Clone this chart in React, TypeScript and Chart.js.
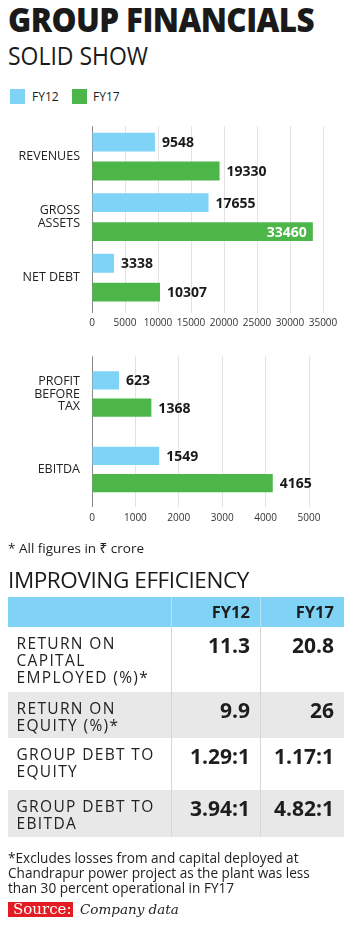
import React, { useEffect, useRef } from "react";
import { Chart, registerables } from "chart.js";

Chart.register(...registerables);

// ---------- data ----------
const SERIES = ["FY12", "FY17"];

const TOP_CATEGORIES = [["REVENUES"], ["GROSS", "ASSETS"], ["NET DEBT"]];
const TOP_FY12 = [9548, 17655, 3338];
const TOP_FY17 = [19330, 33460, 10307];
const TOP_MAX = 35000;
const TOP_STEP = 5000;

const BOTTOM_CATEGORIES = [["PROFIT", "BEFORE", "TAX"], ["EBITDA"]];
const BOTTOM_FY12 = [623, 1549];
const BOTTOM_FY17 = [1368, 4165];
const BOTTOM_MAX = 5000;
const BOTTOM_STEP = 1000;

const TABLE_HEAD = ["FY12", "FY17"];
const TABLE_LABELS = [
  ["RETURN ON", "CAPITAL", "EMPLOYED (%)*"],
  ["RETURN ON", "EQUITY (%)*"],
  ["GROUP DEBT TO", "EQUITY"],
  ["GROUP DEBT TO", "EBITDA"],
];
const TABLE_FY12 = ["11.3", "9.9", "1.29:1", "3.94:1"];
const TABLE_FY17 = ["20.8", "26", "1.17:1", "4.82:1"];

const TITLE = "GROUP FINANCIALS";
const SUBTITLE = "SOLID SHOW";
const UNIT_NOTE = "* All figures in ₹ crore";
const TABLE_TITLE = "IMPROVING EFFICIENCY";
const FOOTNOTE = [
  "*Excludes losses from and capital deployed at",
  "Chandrapur power project as the plant was less",
  "than 30 percent operational in FY17",
];
const SOURCE_LABEL = "Source:";
const SOURCE_TEXT = "Company data";

// ---------- styles ----------
const BLUE = "#7fd3f6";
const GREEN = "#4cb748";
const SANS = "'Open Sans', 'Noto Sans', 'DejaVu Sans', sans-serif";
const SERIF = "'DejaVu Serif', 'Liberation Serif', serif";

const valueLabels = {
  id: "valueLabels",
  afterDatasetsDraw(chart: any) {
    const ctx = chart.ctx;
    ctx.save();
    ctx.font = "700 14px 'Open Sans'";
    ctx.textBaseline = "middle";
    chart.data.datasets.forEach((ds: any, di: number) => {
      const meta = chart.getDatasetMeta(di);
      meta.data.forEach((bar: any, i: number) => {
        const text = String(ds.data[i]);
        const w = ctx.measureText(text).width;
        const x = bar.x;
        const y = bar.y + 1;
        if (x + 7 + w > chart.width - 4) {
          ctx.fillStyle = "#ffffff";
          ctx.textAlign = "right";
          ctx.fillText(text, x - 6, y);
        } else {
          ctx.fillStyle = "#1a1a1a";
          ctx.textAlign = "left";
          ctx.fillText(text, x + 7, y);
        }
      });
    });
    ctx.restore();
  },
};

function makeConfig(
  labels: any[],
  a: number[],
  b: number[],
  max: number,
  step: number,
  o: { padTop: number; padRight: number; axisW: number; axisH: number; tickLen: number; tickPad: number; catPct: number; barPct: number }
): any {
  return {
    type: "bar",
    data: {
      labels,
      datasets: [
        { label: SERIES[0], data: a, backgroundColor: BLUE, borderWidth: 0, categoryPercentage: o.catPct, barPercentage: o.barPct },
        { label: SERIES[1], data: b, backgroundColor: GREEN, borderWidth: 0, categoryPercentage: o.catPct, barPercentage: o.barPct },
      ],
    },
    options: {
      indexAxis: "y",
      responsive: false,
      animation: false,
      devicePixelRatio: 1,
      layout: { padding: { top: o.padTop, right: o.padRight, left: 0, bottom: 0 } },
      plugins: { legend: { display: false }, tooltip: { enabled: false } },
      scales: {
        x: {
          min: 0,
          max,
          ticks: {
            stepSize: step,
            color: "#333",
            font: { family: "'Open Sans'", size: 10 },
            padding: o.tickPad,
            maxRotation: 0,
            autoSkip: false,
            callback: (v: any) => String(v),
          },
          grid: {
            color: (c: any) => (c.index === 0 ? "#8a8a8a" : "#e2e2e2"),
            lineWidth: 1,
            drawTicks: o.tickLen > 0,
            tickLength: o.tickLen,
          },
          border: { display: false },
          afterFit: (s: any) => {
            s.height = o.axisH;
          },
        },
        y: {
          ticks: {
            color: "#222",
            font: { family: "'Open Sans'", size: 12.5, lineHeight: 1.0 },
            padding: 12,
          },
          grid: { display: false, drawTicks: false },
          border: { display: false },
          afterFit: (s: any) => {
            s.width = o.axisW;
          },
        },
      },
    },
    plugins: [valueLabels],
  };
}

function BarChart(props: { top: number; height: number; config: any }) {
  const ref = useRef<HTMLCanvasElement | null>(null);
  useEffect(() => {
    if (!ref.current) return;
    const chart = new Chart(ref.current, props.config);
    return () => chart.destroy();
  }, []);
  return (
    <div style={{ position: "absolute", left: 0, top: props.top, width: 350, height: props.height }}>
      <canvas ref={ref} width={350} height={props.height} style={{ display: "block" }} />
    </div>
  );
}

const abs = (left: number, top: number, extra: any = {}) => ({ position: "absolute" as const, left, top, ...extra });

export default function App() {
  const topConfig = makeConfig(TOP_CATEGORIES, TOP_FY12, TOP_FY17, TOP_MAX, TOP_STEP, {
    padTop: 7,
    padRight: 27,
    axisW: 92,
    axisH: 32,
    tickLen: 5,
    tickPad: 4,
    catPct: 0.955,
    barPct: 0.65,
  });
  const bottomConfig = makeConfig(BOTTOM_CATEGORIES, BOTTOM_FY12, BOTTOM_FY17, BOTTOM_MAX, BOTTOM_STEP, {
    padTop: 8,
    padRight: 41,
    axisW: 92,
    axisH: 23,
    tickLen: 0,
    tickPad: 5,
    catPct: 0.722,
    barPct: 0.667,
  });

  const rowTops = [627, 692, 738, 790];
  const rowHeights = [65, 46, 52, 47];
  const rowBg = ["#ffffff", "#e8e8e8", "#ffffff", "#e8e8e8"];

  return (
    <div style={{ position: "absolute", left: 0, top: 0, width: 350, height: 929, background: "#fff", overflow: "hidden", fontFamily: SANS, color: "#1d1d1d" }}>
      <div style={abs(8, 3, { fontSize: 33, fontWeight: 800, lineHeight: "33px", letterSpacing: -0.6, whiteSpace: "nowrap", color: "#1a1a1a", transform: "scaleX(0.953)", transformOrigin: "0 0" })}>{TITLE}</div>
      <div style={abs(8, 42, { fontSize: 25.5, fontWeight: 400, lineHeight: "26px", whiteSpace: "nowrap", color: "#1a1a1a", transform: "scaleX(0.9)", transformOrigin: "0 0" })}>{SUBTITLE}</div>

      {/* legend */}
      <div style={abs(10, 89, { width: 15, height: 15, background: BLUE })} />
      <div style={abs(32, 89, { fontSize: 12, lineHeight: "16px" })}>{SERIES[0]}</div>
      <div style={abs(72, 89, { width: 15, height: 15, background: GREEN })} />
      <div style={abs(93, 89, { fontSize: 12, lineHeight: "16px" })}>{SERIES[1]}</div>

      <BarChart top={108} height={232} config={topConfig} />
      <BarChart top={338} height={200} config={bottomConfig} />

      <div style={abs(8, 540, { fontSize: 13.5, lineHeight: "16px", whiteSpace: "nowrap" })}>{UNIT_NOTE}</div>

      <div style={abs(8, 568, { fontSize: 22.5, lineHeight: "24px", letterSpacing: -0.4, whiteSpace: "nowrap", color: "#1a1a1a" })}>{TABLE_TITLE}</div>

      {/* table header */}
      <div style={abs(8, 597, { width: 336, height: 30, background: "#80d3f5" })} />
      <div style={abs(171, 597, { width: 1, height: 30, background: "#b3e3f7" })} />
      <div style={abs(260, 597, { width: 1, height: 30, background: "#b3e3f7" })} />
      <div style={abs(171, 597, { width: 79, fontSize: 16.5, fontWeight: 700, lineHeight: "30px", textAlign: "right" })}>{TABLE_HEAD[0]}</div>
      <div style={abs(260, 597, { width: 74, fontSize: 16.5, fontWeight: 700, lineHeight: "30px", textAlign: "right" })}>{TABLE_HEAD[1]}</div>

      {TABLE_LABELS.map((lines, i) => (
        <React.Fragment key={i}>
          <div style={abs(8, rowTops[i], { width: 336, height: rowHeights[i], background: rowBg[i] })} />
          <div style={abs(171, rowTops[i], { width: 1, height: rowHeights[i], background: "#d6d6d6" })} />
          <div style={abs(260, rowTops[i], { width: 1, height: rowHeights[i], background: "#d6d6d6" })} />
          <div style={abs(16.5, rowTops[i] + 7.5, { fontSize: 15.5, fontWeight: 400, lineHeight: "17px", letterSpacing: 1.35, whiteSpace: "nowrap", color: "#222" })}>
            {lines.map((l, j) => (
              <div key={j}>{l}</div>
            ))}
          </div>
          <div style={abs(171, rowTops[i] + 6, { width: 79, fontSize: 21, fontWeight: 700, lineHeight: "24px", textAlign: "right", whiteSpace: "nowrap" })}>{TABLE_FY12[i]}</div>
          <div style={abs(260, rowTops[i] + 6, { width: 74, fontSize: 21, fontWeight: 700, lineHeight: "24px", textAlign: "right", whiteSpace: "nowrap" })}>{TABLE_FY17[i]}</div>
        </React.Fragment>
      ))}

      <div style={abs(8, 849.5, { fontSize: 13.6, lineHeight: "15px", whiteSpace: "nowrap", color: "#222" })}>
        {FOOTNOTE.map((l, j) => (
          <div key={j}>{l}</div>
        ))}
      </div>

      <div style={abs(8, 902, { width: 65, height: 15, background: "#e31b23" })} />
      <div style={abs(13, 901, { fontFamily: SERIF, fontSize: 15, lineHeight: "17px", color: "#fff", whiteSpace: "nowrap" })}>{SOURCE_LABEL}</div>
      <div style={abs(80, 901, { fontFamily: SERIF, fontStyle: "italic", fontSize: 13.5, lineHeight: "17px", color: "#222", whiteSpace: "nowrap" })}>{SOURCE_TEXT}</div>
    </div>
  );
}
